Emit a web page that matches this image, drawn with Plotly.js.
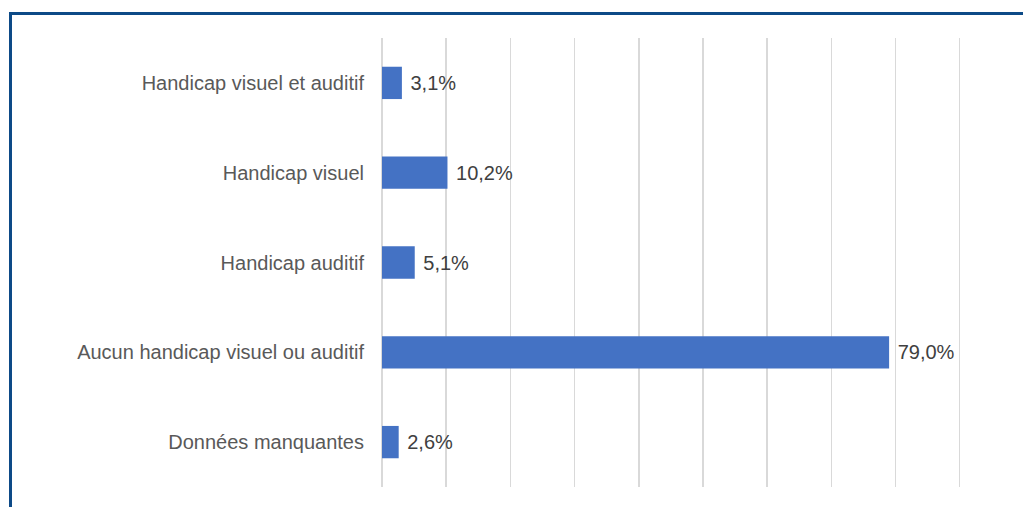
<!DOCTYPE html>
<html>
<head>
<meta charset="utf-8">
<script src="https://cdn.plot.ly/plotly-3.0.1.min.js"></script>
<style>
  body { margin: 0; background: #fff; }
  #chart { width: 1023px; height: 507px; }
  #frame {
    position: absolute; left: 9px; top: 12px; right: 0; bottom: 0;
    border-top: 3px solid #0d4a87; border-left: 3px solid #0d4a87;
    pointer-events: none;
  }
</style>
</head>
<body>
<div id="chart"></div>
<div id="frame"></div>
<script>
// share of respondents by sensory disability (%)
var categories = [
    'Handicap visuel et auditif',
    'Handicap visuel',
    'Handicap auditif',
    'Aucun handicap visuel ou auditif',
    'Données manquantes'
];
var percents = [3.1, 10.2, 5.1, 79.0, 2.6];

var trace = {
    type: 'bar',
    orientation: 'h',
    x: percents,
    y: categories,
    marker: { color: '#4472c4' },
    texttemplate: '\u00a0%{x:.1f}%',
    textposition: 'outside',
    cliponaxis: false,
    textfont: { family: 'Liberation Sans, Arial, sans-serif', size: 20, color: '#404040' },
    hoverinfo: 'none'
};

var layout = {
    width: 1023,
    height: 507,
    margin: { l: 382, r: 62, t: 38, b: 20 },
    paper_bgcolor: '#ffffff',
    plot_bgcolor: '#ffffff',
    separators: ', ',
    showlegend: false,
    bargap: 0.64,
    font: { family: 'Liberation Sans, Arial, sans-serif', size: 20, color: '#595959' },
    xaxis: {
        range: [0, 90.2],
        dtick: 10,
        showticklabels: false,
        showgrid: true,
        gridcolor: '#d9d9d9',
        gridwidth: 1.5,
        zeroline: true,
        zerolinecolor: '#d9d9d9',
        zerolinewidth: 1.5,
        fixedrange: true
    },
    yaxis: {
        autorange: 'reversed',
        showgrid: false,
        zeroline: false,
        ticks: '',
        ticklabelstandoff: 17,
        tickfont: { size: 20, color: '#595959' },
        fixedrange: true
    }
};

Plotly.newPlot('chart', [trace], layout, { displayModeBar: false, staticPlot: true });
</script>
</body>
</html>
